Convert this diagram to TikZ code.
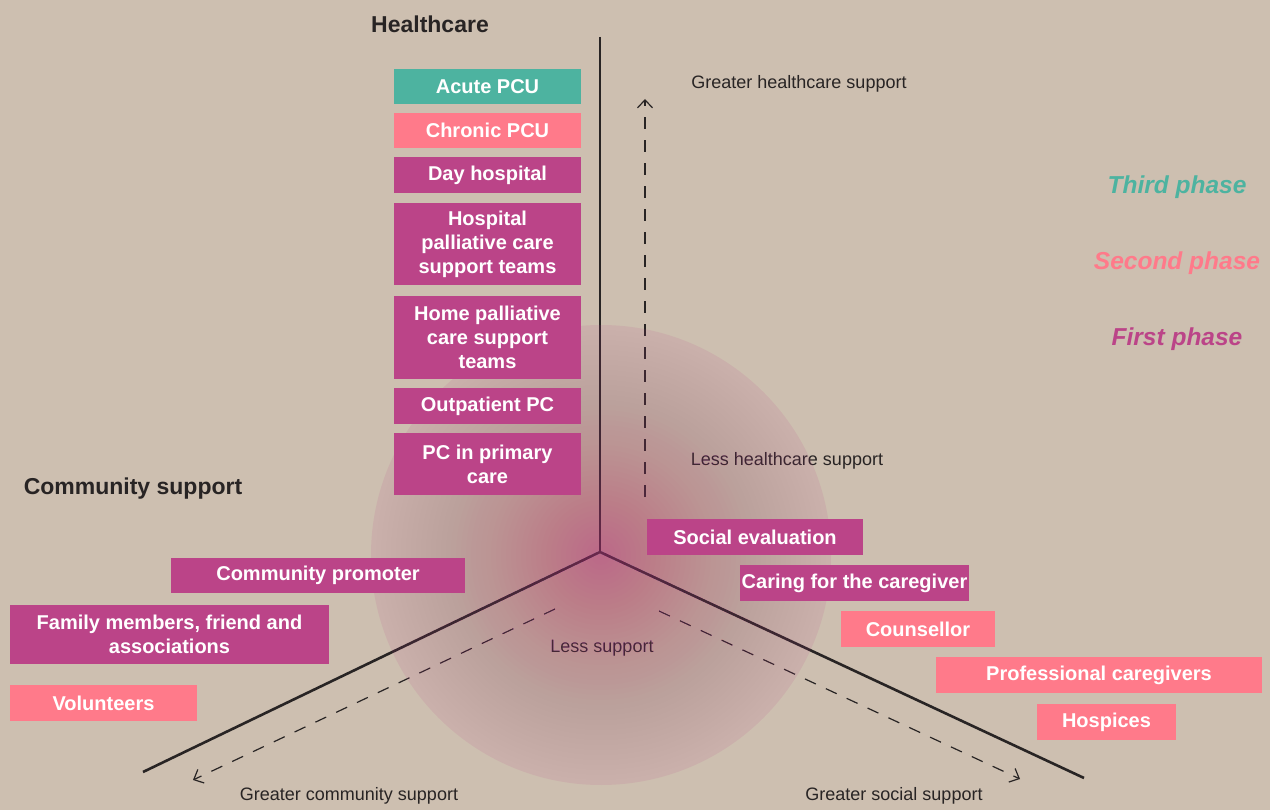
\documentclass[tikz,border=0pt]{standalone}
\usepackage{fontspec}
\setmainfont{Liberation Sans}
\usetikzlibrary{arrows.meta}

\definecolor{bg}{RGB}{205,191,176}
\definecolor{ink}{RGB}{40,36,36}
\definecolor{phaseone}{RGB}{187,68,136}
\definecolor{phasetwo}{RGB}{255,122,138}
\definecolor{phasethree}{RGB}{77,179,160}

\begin{document}
\begin{tikzpicture}[x=1pt,y=-1pt,
	box/.style={inner sep=0pt, text=white, align=center,
	font=\fontsize{20}{24}\selectfont\bfseries},
	first/.style={box, fill=phaseone},
	second/.style={box, fill=phasetwo},
	third/.style={box, fill=phasethree},
	lab/.style={text=ink, font=\fontsize{18}{22}\selectfont},
	head/.style={text=ink, font=\fontsize{23}{27}\selectfont\bfseries},
	phase/.style={font=\fontsize{24.5}{28}\selectfont\bfseries\itshape},
	axisline/.style={draw=ink, line width=2.6pt},
	guide/.style={draw=ink, line width=1.2pt, dash pattern=on 12pt off 11pt,
	-{Straight Barb[length=8pt,width=15pt]}}]
\fill[bg] (0,0) rectangle (1270,810);
\useasboundingbox (0,0) rectangle (1270,810);

% axes
\coordinate (o) at (600,552);
\coordinate (up) at (600,37);
\coordinate (lt) at (143,772);
\coordinate (rt) at (1084,778);
\draw[axisline] (up) -- (o);
\draw[axisline] (lt) -- (o) -- (rt);

% dashed directions
\coordinate (h0) at (645,497);
\coordinate (h1) at (645,99);
\coordinate (c0) at (555,609);
\coordinate (c1) at (193,780);
\coordinate (s0) at (659,611);
\coordinate (s1) at (1020,779);
\draw[guide] (h0) -- (h1);
\draw[guide] (c0) -- (c1);
\draw[guide] (s0) -- (s1);

% axis texts
\node[head] (hc) at (430,24) {Healthcare};
\node[head] (cs) at (133,489) {Community support};
\node[lab] (gh) at (799,84) {Greater healthcare support};
\node[lab] (lh) at (787,461) {Less healthcare support};
\node[lab] (ls) at (602,648) {Less support};
\node[lab] (gc) at (349,796) {Greater community support};
\node[lab] (gs) at (894,796) {Greater social support};

% glow, stacked see-through discs
\coordinate (g) at (601,555);
\fill[phaseone, opacity=0.12] (g) circle[radius=230pt];
\foreach \r in {225,220,...,5} {
	\pgfmathsetmacro{\a}{1-exp(-5*(0.0012+0.00605*(1-\r/230)^2))}
	\fill[phaseone, opacity=\a] (g) circle[radius=\r pt];
}

% phases
\node[phase, text=phasethree] (p3) at (1177,187) {Third phase};
\node[phase, text=phasetwo] (p2) at (1177,263) {Second phase};
\node[phase, text=phaseone] (p1) at (1177,339) {First phase};

% healthcare
\node[third, minimum width=187pt, minimum height=35pt] (1) at (487.5,86.5) {Acute PCU};
\node[second, minimum width=187pt, minimum height=35pt] (2) at (487.5,130.5) {Chronic PCU};
\node[first, minimum width=187pt, minimum height=36pt] (3) at (487.5,175) {Day hospital};
\node[first, minimum width=187pt, minimum height=82pt] (4) at (487.5,244) {Hospital\\palliative care\\support teams};
\node[first, minimum width=187pt, minimum height=83pt] (5) at (487.5,337.5) {Home palliative\\care support\\teams};
\node[first, minimum width=187pt, minimum height=36pt] (6) at (487.5,406) {Outpatient PC};
\node[first, minimum width=187pt, minimum height=62pt] (7) at (487.5,464) {PC in primary\\care};

% community
\node[first, minimum width=294pt, minimum height=35pt] (8) at (318,575.5) {Community promoter};
\node[first, minimum width=319pt, minimum height=59pt] (9) at (169.5,634.5) {Family members, friend and\\associations};
\node[second, minimum width=187pt, minimum height=36pt] (10) at (103.5,703) {Volunteers};

% social
\node[first, minimum width=216pt, minimum height=36pt] (11) at (755,537) {Social evaluation};
\node[first, minimum width=229pt, minimum height=36pt] (12) at (854.5,583) {Caring for the caregiver};
\node[second, minimum width=154pt, minimum height=36pt] (13) at (918,629) {Counsellor};
\node[second, minimum width=326pt, minimum height=36pt] (14) at (1099,675) {Professional caregivers};
\node[second, minimum width=139pt, minimum height=36pt] (15) at (1106.5,722) {Hospices};
\end{tikzpicture}
\end{document}
